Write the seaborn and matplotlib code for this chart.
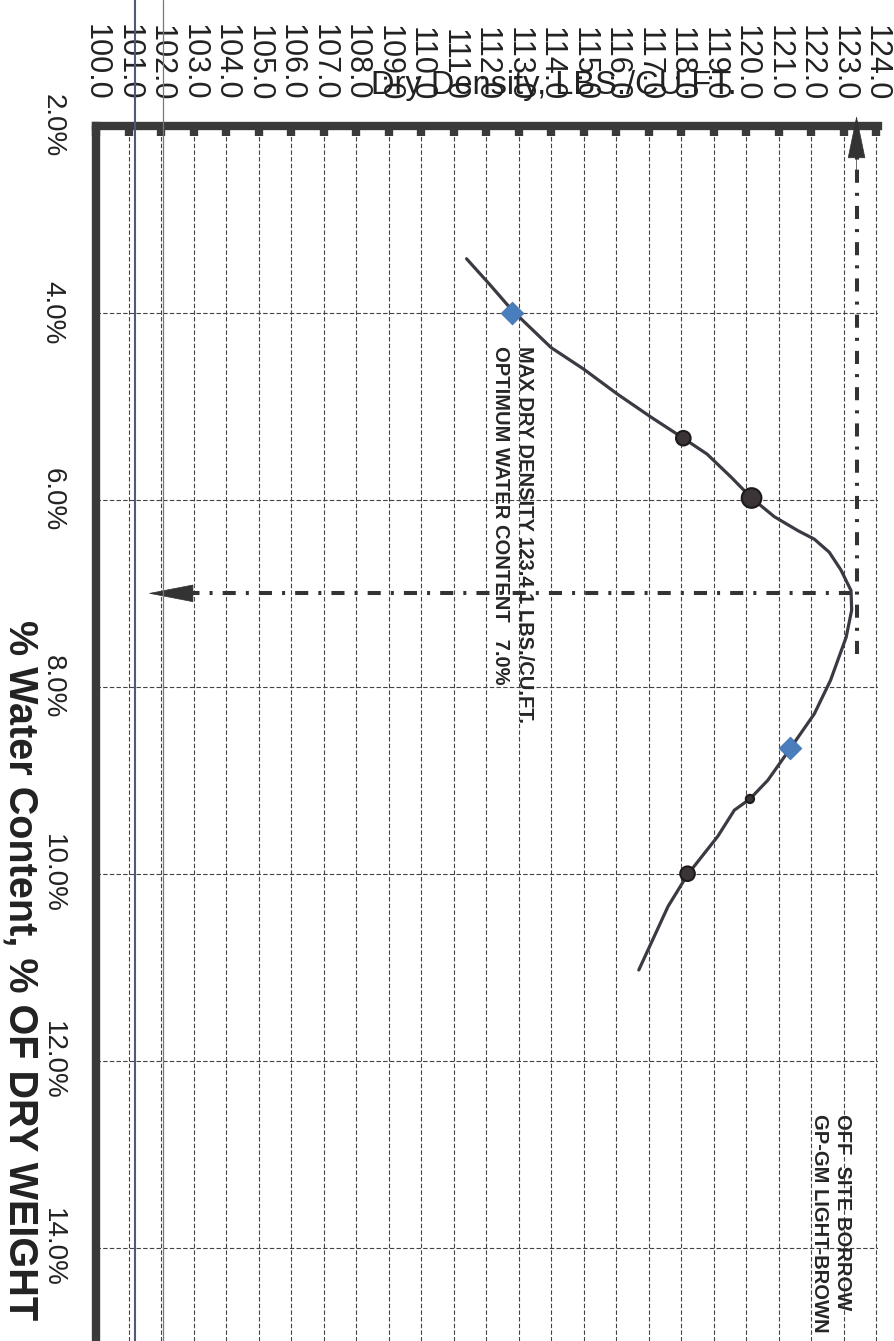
import matplotlib
matplotlib.use("Agg")
import matplotlib.pyplot as plt
import seaborn as sns
from matplotlib.ticker import MultipleLocator, FormatStrFormatter
from matplotlib.lines import Line2D

# hand-drawn compaction curve (density lbs/cu.ft, water %)
curve_density = [111.4, 112.1, 112.8, 113.4, 114.0, 115.0, 116.05, 117.1, 118.07, 118.8,
                 119.55, 120.17, 120.87, 121.6, 122.1, 122.56, 122.92, 123.23, 123.25,
                 123.08, 122.6, 122.1, 121.36, 120.67, 120.12, 119.64, 119.13,
                 118.2, 117.6, 116.7]
curve_water = [3.42, 3.69, 3.97, 4.17, 4.37, 4.60, 4.87, 5.12, 5.34, 5.51,
               5.76, 5.98, 6.18, 6.33, 6.42, 6.56, 6.75, 6.97, 7.18,
               7.47, 7.93, 8.29, 8.66, 9.00, 9.20, 9.32, 9.60,
               10.01, 10.35, 11.03]

# blue diamond points
point_density = [112.8, 121.35]
point_water = [4.0, 8.66]

# hand-marked test points on the curve
mark_density = [118.07, 120.17, 120.12, 118.2]
mark_water = [5.34, 5.98, 9.2, 10.0]

max_density = 123.4
opt_water = 7.0

sns.set_theme(style="white")
plt.rcParams["font.family"] = ["Liberation Sans", "DejaVu Sans"]

ink = "#333333"
fig = plt.figure(figsize=(8.95, 13.41), dpi=100)
ax = fig.add_axes([0.1073, 0.0, 0.8737, 0.906])

# chart is rotated: density runs left->right, water content runs downward
sns.lineplot(x=curve_density, y=curve_water, sort=False, estimator=None,
             color="#3b3a42", lw=2.3, ax=ax, zorder=4)
sns.scatterplot(x=point_density, y=point_water, marker="D", s=135,
                color="#4a7dbb", edgecolor="#3f6fae", linewidth=0.5, ax=ax, zorder=5)
sns.scatterplot(x=mark_density, y=mark_water, marker="o", s=[110, 200, 35, 110],
                color="#3a3436", edgecolor="#1e1a1c", linewidth=1.5, ax=ax, zorder=5)

# dash-dot guide lines to the axes
dashdot = (0, (3.25, 2.5, 0.75, 2.5))
ax.plot([max(curve_density), 102.0], [opt_water, opt_water], color=ink, lw=2.9,
        linestyle=dashdot, zorder=3)
ax.plot([max_density, max_density], [7.65, 2.3], color=ink, lw=2.9,
        linestyle=dashdot, zorder=3, clip_on=False)
ax.annotate("", xy=(101.6, opt_water), xytext=(103.1, opt_water),
            arrowprops=dict(arrowstyle="-|>,head_length=3.1,head_width=0.6",
                            color=ink, lw=0.5, shrinkA=0, shrinkB=0,
                            mutation_scale=10),
            annotation_clip=False, zorder=6)
ax.annotate("", xy=(max_density, 1.89), xytext=(max_density, 2.6),
            arrowprops=dict(arrowstyle="-|>,head_length=2.9,head_width=0.6",
                            color=ink, lw=0.5, shrinkA=0, shrinkB=0,
                            mutation_scale=10),
            annotation_clip=False, zorder=6)

ax.set_xlim(100, 124.06)
ax.set_ylim(15.0, 2.0)

ax.xaxis.set_major_locator(MultipleLocator(1))
ax.yaxis.set_major_locator(MultipleLocator(2))
ax.yaxis.set_minor_locator(MultipleLocator(1))
ax.xaxis.set_major_formatter(FormatStrFormatter("%.1f"))
ax.yaxis.set_major_formatter(FormatStrFormatter("%.1f%%"))

ax.grid(True, which="major", color="#444444", lw=0.8, linestyle=(0, (4, 2)))
ax.set_axisbelow(True)

for side in ["left", "top"]:
    ax.spines[side].set_linewidth(6)
    ax.spines[side].set_color("#3a3a3a")
for side in ["right", "bottom"]:
    ax.spines[side].set_visible(False)

ax.xaxis.tick_top()
ax.tick_params(axis="x", which="major", direction="in", length=7, width=6,
               color="#3a3a3a", pad=18, labelsize=22, labelrotation=-90,
               labelcolor="#222222", bottom=False)
ax.tick_params(axis="y", which="both", direction="in", length=7, width=6,
               color="#3a3a3a", pad=22, labelsize=20, labelrotation=-90,
               labelcolor="#222222", right=False)
plt.setp(ax.get_yticklabels(), va="center")

ax.set_xlabel("Dry Density, LBS./CU.FT.", fontsize=23.5, color="#222222")
ax.xaxis.set_label_position("top")
ax.xaxis.set_label_coords(0.585, 1.033)
ax.xaxis.label.set_va("center")

ax.set_ylabel("% Water Content, % OF DRY WEIGHT", fontsize=28.5, fontweight="bold",
              color="#222222", rotation=-90)
ax.yaxis.set_label_coords(-0.097, 0.305)
ax.yaxis.label.set_va("center")
ax.yaxis.label.set_ha("center")

note = dict(rotation=-90, ha="center", va="top", fontsize=14.5,
            fontweight="bold", color="#262626", zorder=6)
ax.text(113.17, 4.35, "MAX DRY DENSITY 123.4 1 LBS./CU.FT.", **note)
ax.text(112.46, 4.35, "OPTIMUM WATER CONTENT   7.0%", **note)
ax.text(122.97, 12.57, "OFF  SITE BORROW", **note)
ax.text(122.25, 12.57, "GP-GM LIGHT-BROWN", **note)

# scanner streaks running down the page
fig.add_artist(Line2D([134.5 / 895] * 2, [0, 1], transform=fig.transFigure,
                      color="#4f5978", lw=1.5, zorder=10))
fig.add_artist(Line2D([163.5 / 895] * 2, [0, 1], transform=fig.transFigure,
                      color="#6f7793", lw=0.9, zorder=10))

fig.savefig("out.png", dpi=100)
